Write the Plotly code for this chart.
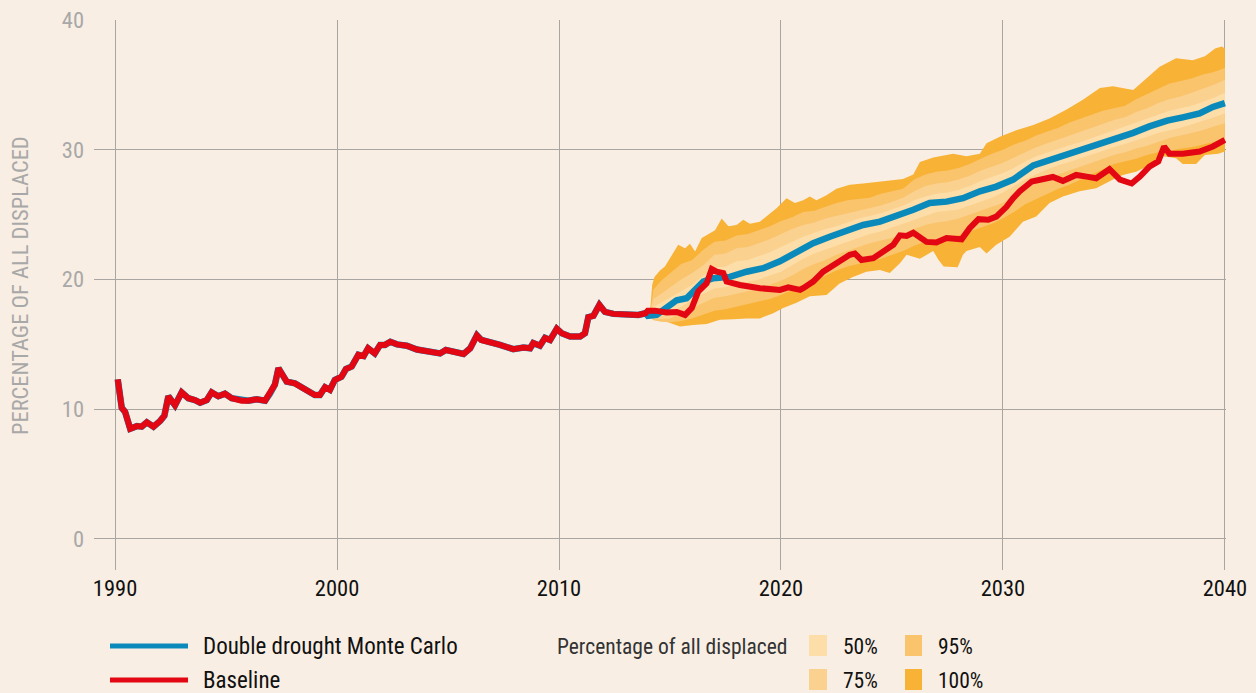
import plotly.graph_objects as go

# ---------------- data ----------------
hist_years = [1990.12, 1990.3, 1990.45, 1990.68, 1990.98, 1991.2, 1991.43, 1991.73, 1992.03, 1992.22,
              1992.4, 1992.7, 1993.0, 1993.3, 1993.6, 1993.83, 1994.13, 1994.35, 1994.65, 1994.95,
              1995.25, 1995.7, 1996.0, 1996.38, 1996.76, 1996.98, 1997.2, 1997.36, 1997.6, 1997.73,
              1998.1, 1998.56, 1999.0, 1999.23, 1999.46, 1999.68, 1999.9, 2000.2, 2000.4, 2000.66,
              2000.96, 2001.2, 2001.4, 2001.7, 2001.94, 2002.16, 2002.4, 2002.7, 2003.14, 2003.6,
              2004.1, 2004.64, 2004.9, 2005.24, 2005.7, 2006.0, 2006.3, 2006.5, 2006.9, 2007.34,
              2007.94, 2008.4, 2008.7, 2008.84, 2009.14, 2009.37, 2009.6, 2009.9, 2010.12, 2010.5,
              2010.95, 2011.17, 2011.32, 2011.55, 2011.82, 2012.07, 2012.45, 2013.05, 2013.57, 2013.9]
hist_values = [12.3, 10.1, 9.8, 8.5, 8.7, 8.66, 9.0, 8.66, 9.1, 9.5,
               11.0, 10.3, 11.3, 10.85, 10.7, 10.5, 10.7, 11.3, 11.0, 11.2,
               10.85, 10.66, 10.66, 10.77, 10.66, 11.2, 11.9, 13.16, 12.5, 12.13,
               12.0, 11.5, 11.1, 11.1, 11.7, 11.5, 12.26, 12.5, 13.1, 13.3,
               14.2, 14.1, 14.7, 14.3, 14.96, 14.96, 15.2, 15.0, 14.9, 14.6,
               14.4, 14.3, 14.57, 14.45, 14.26, 14.7, 15.7, 15.34, 15.2, 14.96,
               14.63, 14.75, 14.7, 15.1, 14.9, 15.5, 15.34, 16.2, 15.86, 15.6,
               15.6, 15.86, 17.1, 17.2, 18.04, 17.5, 17.35, 17.27, 17.27, 17.4]

mc_years = [2014.0, 2014.4, 2014.85, 2015.3, 2015.75, 2016.13, 2016.5, 2016.95, 2017.7, 2018.45,
            2019.2, 2019.95, 2020.7, 2021.45, 2022.2, 2022.96, 2023.7, 2024.46, 2025.2, 2025.96,
            2026.7, 2027.46, 2028.2, 2028.96, 2029.7, 2030.46, 2031.37, 2032.1, 2032.87, 2033.6,
            2034.37, 2035.1, 2035.87, 2036.6, 2037.4, 2038.1, 2038.86, 2039.46, 2040.0]
mc_values = [17.2, 17.27, 17.9, 18.4, 18.56, 19.2, 19.84, 20.1, 20.2, 20.6,
             20.87, 21.4, 22.15, 22.8, 23.3, 23.7, 24.2, 24.46, 24.85, 25.37,
             25.9, 26.0, 26.27, 26.8, 27.16, 27.7, 28.8, 29.2, 29.6, 30.1,
             30.5, 30.9, 31.3, 31.8, 32.25, 32.5, 32.8, 33.3, 33.6]

base_years = [2014.0, 2014.32, 2014.85, 2015.3, 2015.68, 2015.98, 2016.27, 2016.65, 2016.88, 2017.1,
              2017.4, 2017.55, 2018.15, 2019.05, 2019.95, 2020.33, 2020.86, 2021.0, 2021.45, 2021.9,
              2022.36, 2022.73, 2023.1, 2023.33, 2023.63, 2024.16, 2024.6, 2025.06, 2025.36, 2025.66,
              2025.96, 2026.56, 2027.0, 2027.46, 2028.14, 2028.5, 2028.9, 2029.34, 2029.7, 2030.16,
              2030.46, 2030.76, 2031.3, 2031.8, 2032.25, 2032.7, 2033.3, 2033.77, 2034.2, 2034.8,
              2035.27, 2035.8, 2036.17, 2036.6, 2037.0, 2037.26, 2037.5, 2038.1, 2038.86, 2039.46, 2040.0]
base_values = [17.6, 17.6, 17.45, 17.5, 17.27, 17.8, 19.07, 19.7, 20.8, 20.6,
               20.5, 19.84, 19.58, 19.33, 19.2, 19.4, 19.2, 19.33, 19.84, 20.6,
               21.1, 21.5, 21.9, 22.0, 21.5, 21.64, 22.15, 22.67, 23.4, 23.36,
               23.6, 22.9, 22.85, 23.2, 23.1, 23.95, 24.65, 24.6, 24.85, 25.6,
               26.27, 26.8, 27.55, 27.7, 27.9, 27.6, 28.06, 27.93, 27.8, 28.5,
               27.7, 27.4, 27.93, 28.7, 29.1, 30.25, 29.7, 29.7, 29.86, 30.25, 30.76]

# 100% envelope
hi100_years = [2014.1, 2014.2, 2014.3, 2014.55, 2014.77, 2015.15, 2015.37, 2015.68, 2015.9, 2016.13,
               2016.43, 2017.03, 2017.33, 2017.63, 2018.0, 2018.3, 2018.6, 2019.05, 2019.35, 2019.8,
               2020.25, 2020.63, 2021.0, 2021.3, 2021.6, 2022.05, 2022.5, 2023.1, 2023.7, 2024.46,
               2025.06, 2025.5, 2025.96, 2026.26, 2026.86, 2027.76, 2028.36, 2028.96, 2029.26, 2029.86,
               2030.6, 2031.37, 2032.1, 2032.87, 2033.6, 2034.37, 2034.96, 2035.87, 2036.46, 2037.06,
               2037.8, 2038.55, 2039.1, 2039.56, 2039.86, 2040.0]
hi100_values = [17.5, 19.6, 20.2, 20.7, 21.0, 22.0, 22.67, 22.4, 22.75, 22.15,
                23.2, 23.8, 24.7, 24.1, 24.2, 24.6, 24.3, 24.46, 24.85, 25.5,
                26.27, 25.9, 26.1, 26.4, 26.1, 26.5, 27.0, 27.3, 27.4, 27.55,
                27.7, 27.75, 28.1, 29.05, 29.4, 29.7, 29.5, 29.7, 30.5, 31.0,
                31.5, 31.9, 32.4, 33.1, 33.85, 34.75, 34.9, 34.6, 35.5, 36.4,
                37.06, 36.9, 37.2, 37.8, 37.96, 37.8]
lo100_years = [2014.1, 2014.25, 2014.85, 2015.45, 2016.05, 2016.65, 2017.25, 2017.85, 2018.45, 2019.05,
               2019.65, 2020.1, 2020.7, 2021.3, 2022.05, 2022.64, 2023.24, 2023.85, 2024.46, 2024.9,
               2025.36, 2025.66, 2026.26, 2026.86, 2027.1, 2027.33, 2027.96, 2028.2, 2028.36, 2028.96,
               2029.26, 2029.7, 2030.3, 2030.9, 2031.5, 2032.1, 2032.7, 2033.45, 2034.2, 2034.96,
               2035.4, 2036.0, 2036.6, 2037.2, 2037.8, 2038.1, 2038.7, 2039.1, 2039.7, 2040.0]
lo100_values = [17.3, 17.1, 16.75, 16.37, 16.5, 16.57, 16.9, 16.94, 17.0, 17.0,
                17.4, 17.8, 18.2, 18.7, 18.8, 19.7, 20.2, 20.6, 20.74, 20.5,
                21.25, 21.9, 21.6, 22.2, 21.5, 21.0, 20.95, 21.9, 22.2, 22.5,
                22.0, 22.67, 23.3, 24.46, 24.85, 25.9, 26.4, 26.8, 27.04, 27.7,
                28.06, 28.3, 28.8, 29.5, 29.35, 28.9, 28.9, 29.6, 29.7, 29.86]

# inner bands (read at half-year steps)
band_years = [2014.1, 2014.25, 2014.6, 2015, 2015.5, 2016, 2016.5, 2017, 2017.5, 2018, 2018.5, 2019,
              2019.5, 2020, 2020.5, 2021, 2021.5, 2022, 2022.5, 2023, 2023.5, 2024, 2024.5, 2025,
              2025.5, 2026, 2026.5, 2027, 2027.5, 2028, 2028.5, 2029, 2029.5, 2030, 2030.5, 2031,
              2031.5, 2032, 2032.5, 2033, 2033.5, 2034, 2034.5, 2035, 2035.5, 2036, 2036.5, 2037,
              2037.5, 2038, 2038.5, 2039, 2039.5, 2040]
hi95 = [17.5, 19.2, 19.9, 20.5, 21.2, 21.5, 22.3, 22.9, 23.0, 23.4, 23.5, 23.8,
        24.1, 24.5, 24.8, 25.2, 25.3, 25.6, 25.9, 26.1, 26.2, 26.3, 26.6, 26.8,
        27.0, 27.7, 28.1, 28.3, 28.4, 28.6, 28.9, 29.3, 29.7, 30.0, 30.4, 30.7,
        31.1, 31.4, 31.7, 32.1, 32.4, 32.7, 33.0, 33.2, 33.4, 33.9, 34.3, 34.7,
        35.1, 35.3, 35.5, 35.8, 36.0, 36.3]
hi75 = [17.45, 18.5, 18.9, 19.4, 20.0, 20.5, 21.1, 21.9, 22.0, 22.4, 22.5, 22.8,
        23.1, 23.5, 23.9, 24.2, 24.4, 24.7, 24.9, 25.1, 25.3, 25.5, 25.7, 26.0,
        26.3, 26.8, 27.2, 27.4, 27.5, 27.7, 28.0, 28.4, 28.7, 29.0, 29.4, 29.8,
        30.2, 30.5, 30.8, 31.1, 31.4, 31.7, 32.0, 32.3, 32.5, 32.9, 33.2, 33.6,
        33.9, 34.1, 34.4, 34.7, 35.0, 35.4]
hi50 = [17.4, 17.9, 18.2, 18.6, 19.1, 19.6, 20.3, 20.9, 21.0, 21.4, 21.5, 21.8,
        22.1, 22.5, 22.9, 23.3, 23.6, 23.9, 24.1, 24.4, 24.7, 24.9, 25.1, 25.4,
        25.7, 26.1, 26.4, 26.6, 26.7, 26.9, 27.2, 27.6, 27.9, 28.2, 28.6, 29.1,
        29.5, 29.8, 30.1, 30.35, 30.6, 30.9, 31.2, 31.5, 31.8, 32.1, 32.4, 32.7,
        33.0, 33.2, 33.4, 33.7, 34.0, 34.4]
lo50 = [17.2, 17.05, 17.2, 17.4, 17.9, 18.4, 18.9, 19.3, 19.4, 19.6, 19.8, 20.0,
        20.3, 20.6, 21.1, 21.6, 22.0, 22.3, 22.6, 22.9, 23.2, 23.5, 23.7, 23.95,
        24.3, 24.6, 24.9, 25.2, 25.3, 25.4, 25.7, 26.0, 26.3, 26.7, 27.2, 27.7,
        28.1, 28.5, 28.8, 29.05, 29.35, 29.65, 29.9, 30.2, 30.45, 30.7, 31.0, 31.3,
        31.5, 31.7, 31.95, 32.2, 32.5, 32.8]
lo75 = [17.15, 16.95, 16.95, 17.0, 17.4, 17.8, 18.2, 18.6, 18.7, 18.9, 19.1, 19.3,
        19.6, 19.9, 20.3, 20.8, 21.2, 21.5, 21.9, 22.2, 22.5, 22.8, 23.0, 23.2,
        23.5, 23.9, 24.2, 24.4, 24.5, 24.7, 25.0, 25.3, 25.6, 25.9, 26.5, 27.0,
        27.4, 27.8, 28.1, 28.4, 28.7, 29.0, 29.3, 29.6, 29.8, 30.1, 30.3, 30.6,
        30.9, 31.1, 31.3, 31.5, 31.8, 32.05]
lo95 = [17.1, 16.85, 16.75, 16.7, 16.8, 17.0, 17.3, 17.6, 17.7, 17.9, 18.1, 18.3,
        18.5, 18.8, 19.2, 19.6, 19.9, 20.3, 20.7, 21.0, 21.2, 21.4, 21.6, 21.9,
        22.2, 22.6, 22.9, 23.1, 23.2, 23.4, 23.7, 24.0, 24.3, 24.7, 25.2, 25.8,
        26.2, 26.6, 27.0, 27.3, 27.7, 28.1, 28.5, 28.9, 29.1, 29.3, 29.6, 29.8,
        29.9, 30.1, 30.2, 30.4, 30.6, 30.8]

x_ticks = [1990, 2000, 2010, 2020, 2030, 2040]
y_ticks = [0, 10, 20, 30, 40]
band_labels = ["50%", "75%", "95%", "100%"]

# ---------------- style ----------------
BG = "#F8EEE3"
GRID = "#A9A6A2"
BLUE = "#0A8ABB"
RED = "#E30613"
C100 = "#F8B236"
C95 = "#F9C46C"
C75 = "#FBD18F"
C50 = "#FDDDA8"
FONT = "Liberation Sans Narrow, Roboto Condensed, Arial Narrow, Roboto, sans-serif"

fig = go.Figure()


def band(hx, hy, lx, ly, color):
    fig.add_trace(go.Scatter(
        x=list(hx) + list(lx)[::-1], y=list(hy) + list(ly)[::-1],
        fill="toself", fillcolor=color, mode="lines", line=dict(width=0),
        hoverinfo="skip", showlegend=False))


band(hi100_years, hi100_values, lo100_years, lo100_values, C100)
band(band_years, hi95, band_years, lo95, C95)
band(band_years, hi75, band_years, lo75, C75)
band(band_years, hi50, band_years, lo50, C50)

fig.add_trace(go.Scatter(x=hist_years + mc_years, y=hist_values + mc_values, mode="lines",
                         line=dict(color=BLUE, width=6.5), showlegend=False))
fig.add_trace(go.Scatter(x=hist_years + base_years, y=hist_values + base_values, mode="lines",
                         line=dict(color=RED, width=6), showlegend=False))

# plot area in pixels
L, R, T, B = 94, 1226, 20, 570
W, H = 1256, 693


def px(x):
    return (x - L) / (R - L)


def py(y):
    return (B - y) / (B - T)


fig.update_layout(
    width=W, height=H,
    margin=dict(l=L, r=W - R, t=T, b=H - B, autoexpand=False),
    paper_bgcolor=BG, plot_bgcolor=BG,
    font=dict(family=FONT, size=21.5, color="#111111"),
    xaxis=dict(range=[1989.05, 2040.05], tickvals=x_ticks, ticktext=[str(v) for v in x_ticks],
               showgrid=True, gridcolor=GRID, gridwidth=1, zeroline=False, showline=False,
               ticks="", tickfont=dict(size=22.5, color="#111111"), ticklabelstandoff=2,
               automargin=False),
    yaxis=dict(range=[-2.39, 40], tickvals=y_ticks, showgrid=True, gridcolor=GRID, gridwidth=1,
               zeroline=False, showline=False, ticks="", automargin=False,
               tickfont=dict(size=22.5, color="#A8A8A8"), ticklabelstandoff=9),
)

annotations = [
    dict(text="PERCENTAGE OF ALL DISPLACED", x=px(20), y=py(286), textangle=-90,
         xanchor="center", font=dict(size=22.5, color="#A8A8A8")),
    dict(text="Double drought Monte Carlo", x=px(201), y=py(646), xanchor="left",
         font=dict(size=23)),
    dict(text="Baseline", x=px(201), y=py(680), xanchor="left", font=dict(size=23)),
    dict(text="Percentage of all displaced", x=px(555), y=py(646), xanchor="left",
         font=dict(color="#333333")),
    dict(text=band_labels[0], x=px(841), y=py(646), xanchor="left"),
    dict(text=band_labels[1], x=px(841), y=py(680), xanchor="left"),
    dict(text=band_labels[2], x=px(936), y=py(646), xanchor="left"),
    dict(text=band_labels[3], x=px(936), y=py(680), xanchor="left"),
]
for a in annotations:
    a.update(xref="paper", yref="paper", showarrow=False)
    a.setdefault("yanchor", "middle")
fig.update_layout(annotations=annotations)

shapes = [
    dict(type="line", x0=px(110), x1=px(188), y0=py(646), y1=py(646), line=dict(color=BLUE, width=5)),
    dict(type="line", x0=px(110), x1=px(188), y0=py(680), y1=py(680), line=dict(color=RED, width=5)),
    dict(type="rect", x0=px(809), x1=px(827), y0=py(635), y1=py(656), fillcolor=C50, line=dict(width=0)),
    dict(type="rect", x0=px(809), x1=px(827), y0=py(669), y1=py(690), fillcolor=C75, line=dict(width=0)),
    dict(type="rect", x0=px(905), x1=px(922), y0=py(635), y1=py(656), fillcolor=C95, line=dict(width=0)),
    dict(type="rect", x0=px(905), x1=px(922), y0=py(669), y1=py(690), fillcolor=C100, line=dict(width=0)),
]
for s in shapes:
    s.update(xref="paper", yref="paper")
fig.update_layout(shapes=shapes)

fig.write_html(
    "out.html",
    config={"displayModeBar": False},
    post_script=("document.body.style.margin='0';document.body.style.padding='0';"
                 "document.body.style.overflow='hidden';"
                 "document.body.style.background='" + BG + "';"),
)
